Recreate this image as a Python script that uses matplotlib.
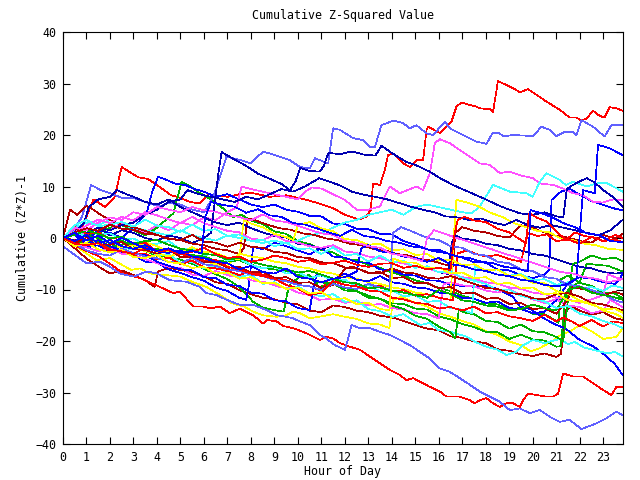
import matplotlib

matplotlib.use("Agg")

import matplotlib.pyplot as plt

# hour of day -> cumulative (Z*Z)-1, key points
red_top = [(0, 0), (0.3, 1), (0.8, 2), (1.3, 7.5), (1.8, 6), (2.2, 8), (2.5, 13.8), (2.8, 12.9),
           (3.2, 11.8), (3.6, 11.5), (4.0, 10.3), (4.3, 9.3), (4.6, 8.3), (5.0, 7.8), (5.4, 7.0),
           (5.8, 6.7), (6.2, 8.5), (7.0, 8.0), (7.5, 8.5), (8.0, 8.8), (8.8, 8.0), (9.5, 8.3),
           (10.3, 7.5), (10.9, 6.7), (11.5, 5.8), (12.0, 4.5), (12.6, 3.6), (12.9, 4.1), (13.1, 5.4),
           (13.2, 10.6), (13.5, 10.3), (13.7, 13.2), (13.84, 16.1), (14.06, 16.4), (14.48, 14.5),
           (14.77, 13.8), (15.05, 15.1), (15.33, 15.1), (15.48, 21.0), (15.55, 21.6), (16.04, 20.4),
           (16.54, 22.6), (16.75, 25.5), (16.96, 26.3), (17.6, 25.5), (17.74, 25.2), (18.17, 25.0),
           (18.31, 24.5), (18.52, 30.5), (18.74, 30.0), (19.16, 29.1), (19.45, 28.3), (19.8, 28.9),
           (20.23, 27.6), (20.58, 26.5), (21.15, 24.9), (21.57, 23.4), (21.86, 23.4), (22.07, 22.8),
           (22.29, 23.2), (22.57, 24.7), (22.85, 23.7), (23.06, 23.4), (23.28, 25.4), (23.56, 25.2),
           (23.83, 24.7)]
red_low = [(0, 0), (0.5, -1.5), (1.0, -2.5), (1.5, -3.5), (2.0, -5.0), (2.57, -6.9), (3.28, -7.8),
           (4.13, -9.5), (4.69, -10.7), (4.98, -10.4), (5.54, -13.3), (5.97, -13.3), (6.26, -13.7),
           (6.68, -13.3), (7.1, -14.6), (7.53, -13.7), (8.1, -15.0), (8.52, -16.6), (8.67, -15.9),
           (9.1, -16.2), (9.38, -17.1), (9.8, -17.5), (10.37, -18.5), (10.94, -19.8), (11.22, -19.2),
           (11.5, -19.5), (11.79, -20.4), (12.21, -21.1), (12.64, -21.7), (13.06, -23.0),
           (13.49, -24.3), (13.91, -25.6), (14.34, -26.6), (14.62, -27.6), (14.91, -27.2),
           (15.19, -27.9), (15.62, -28.9), (16.04, -29.8), (16.33, -30.8), (16.89, -30.8),
           (17.32, -31.5), (17.53, -32.1), (17.74, -31.5), (18.03, -31.1), (18.31, -32.1),
           (18.6, -32.8), (18.88, -32.1), (19.16, -32.1), (19.45, -32.8), (19.59, -31.5),
           (19.8, -30.2), (20.16, -30.5), (20.58, -30.8), (20.87, -30.8), (21.08, -30.2),
           (21.29, -26.3), (21.72, -26.9), (22.14, -26.9), (22.57, -28.2), (22.99, -29.5),
           (23.35, -30.5), (23.56, -28.9), (23.83, -29.0)]
red_c = [(0, 0), (0.5, -0.4), (1, -1.2), (1.5, -0.9), (2, -2.6), (2.5, -2.2), (3, -3.3),
         (3.5, -3.0), (4, -4.2), (4.5, -3.8), (5, -5.1), (5.5, -4.4), (6, -5.7), (6.5, -5.9),
         (7, -6.4), (7.5, -7.2), (8, -6.5), (8.5, -7.1), (9, -7.7), (9.5, -8.2), (10, -9.1),
         (10.5, -9.4), (11, -10.2), (11.3, -8), (11.7, -8.6), (12, -8.3), (12.5, -9.2), (13, -9.7),
         (13.5, -9.3), (14, -10.4), (14.5, -10.1), (15, -11.2), (15.5, -10.9), (16, -11.6),
         (16.6, -12.1), (16.8, -3), (17.2, -2.4), (17.6, -3.1), (18, -3.6), (18.5, -3.3), (19, -4.1),
         (19.5, -4.6), (19.8, 1), (20.2, 0.4), (20.6, 0.7), (21, -0.6), (21.5, -0.3), (22, -1.1),
         (22.5, 0.2), (23, -0.6), (23.5, 0.6), (23.83, 0)]
red_d = [(0, 0), (0.5, 2.1), (1, 0.8), (1.5, 1.1), (2, -0.2), (2.5, 0.3), (3, -1.2), (3.5, -0.9),
         (4, -2.6), (4.5, -2.2), (5, -3.1), (5.5, -3.6), (6, -4.4), (6.5, -4.2), (7, -5.6),
         (7.5, -6.1), (8, -6.9), (8.5, -7.4), (9, -7.9), (9.5, -9.1), (10, -9.8), (10.5, -11.1),
         (11, -10.6), (11.5, -8.4), (12, -9.1), (12.5, -9.4), (13, -10.2), (13.5, -10.4),
         (14, -11.6), (14.5, -11.9), (15, -12.6), (15.5, -12.8), (16, -13.7), (16.5, -13.4),
         (17, -14.1), (17.5, -13.3), (18, -14.6), (18.5, -14.4), (19, -15.2), (19.5, -15.6),
         (20, -16.1), (20.5, -14.9), (21, -16.2), (21.3, -15.4), (21.7, -16.3), (22, -17.1),
         (22.5, -15.9), (23, -17.2), (23.4, -16.2), (23.83, -16.5)]
red_e = [(0, 0), (0.5, -1.1), (1, -1.4), (1.5, -1.0), (2, -2.2), (2.5, -2.6), (3, -3.1), (3.5, -1.9),
         (4, -2.6), (4.5, -2.4), (5, -3.2), (5.5, -2.7), (6, -1.9), (6.5, -3.1), (7, -3.9),
         (7.5, -3.6), (8, -4.6), (8.5, -4.2), (9, -3.4), (9.5, -3.9), (10, -4.6), (10.5, -4.3),
         (11, -5.1), (11.5, -4.8), (12, -4.4), (12.5, -5.2), (13, -5.6), (13.5, -5.0), (14, -4.9),
         (14.5, -5.8), (15, -5.4), (15.5, -6.1), (16, -5.8), (16.5, -6.2), (16.65, 0.3),
         (16.8, 3.5), (17.1, 4.1), (17.5, 3.4), (18, 3.1), (18.5, 1.8), (19, 1.1), (19.4, -0.1),
         (19.7, -1), (19.85, 4.8), (20.2, 3.9), (20.6, 3.2), (21, 1.4), (21.4, -0.4), (21.8, 1.1),
         (22.2, 0.4), (22.6, 0.1), (23, -0.6), (23.5, -0.3), (23.83, -0.8)]

green_a = [(0, 0), (0.5, -1), (1, 0.5), (1.5, 1), (2, 2), (2.5, 2.5), (3, 1.5), (3.5, 0.5), (4, 2),
           (4.7, 4.8), (5.05, 10.9), (5.5, 9.8), (5.83, 8.7), (6.3, 7.5), (6.8, 5.8), (7.24, 4.1),
           (7.6, 4.5), (8, 3.4), (8.5, 2.7), (9, 1.3), (9.5, 0.8), (10, -0.6), (10.5, -1.2),
           (11, -2.3), (11.5, -2.8), (12, -4.1), (12.5, -4.3), (13, -5.2), (13.5, -5.8), (14, -6.7),
           (14.5, -7.3), (15, -8.2), (15.5, -8.8), (16, -9.7), (16.5, -10.3), (17, -11.2),
           (17.5, -11.8), (18, -12.7), (18.5, -12.9), (19, -13.8), (19.5, -13.6), (20, -14.7),
           (20.5, -14.8), (21, -16.1), (21.1, -16.5), (21.2, -8), (21.5, -7.3), (22, -8.7),
           (22.5, -9.3), (23, -10.6), (23.5, -10.8), (23.83, -11.7)]
green_b = [(0, 0), (0.5, 1), (1, 0.5), (1.5, 0), (2, -1), (2.5, -0.5), (3, -1.5), (3.5, -2.5),
           (4, -3.5), (4.5, -3.7), (5, -4.2), (5.5, -5), (6, -6), (6.5, -7), (7, -8), (7.5, -9.5),
           (8.1, -12.4), (8.5, -13.5), (9, -14), (9.4, -14.3), (9.55, -10.7), (9.7, -8.8),
           (10.1, -7.5), (10.5, -7.2), (10.9, -9.5), (11.5, -8.8), (12, -10.2), (12.5, -10.3),
           (13, -11.2), (13.5, -11.8), (14, -12.7), (14.5, -12.8), (15, -13.7), (15.5, -13.9),
           (16, -15.2), (16.5, -15.8), (17, -16.7), (17.5, -17.3), (18, -18.2), (18.5, -18.3),
           (19, -19.6), (19.5, -18.8), (20, -19.7), (20.5, -19.9), (21, -21.1), (21.2, -21),
           (21.35, -13), (21.5, -10), (22, -8.5), (22.3, -5), (22.7, -5.2), (23.2, -5.4),
           (23.83, -6.5)]
green_c = [(0, 0), (0.5, -1.1), (1, -0.4), (1.5, -0.8), (2, -1.7), (2.5, -1.3), (3, -0.9),
           (3.5, -1.8), (4, -2.2), (4.5, -2.0), (5, -3.1), (5.5, -3.3), (6, -3.6), (6.5, -4.4),
           (7, -4.6), (7.5, -4.3), (8, -5.2), (8.5, -5.8), (9, -6.1), (9.5, -6.4), (10, -7.2),
           (10.5, -7.6), (10.9, -8.6), (11.5, -8.8), (12, -9.7), (12.5, -10.3), (13, -11.6),
           (13.5, -11.8), (14, -13.1), (14.5, -13.8), (15, -15.1), (15.5, -15.7), (16, -17.2),
           (16.5, -18.3), (16.7, -19.5), (16.85, -14), (17.2, -14.6), (17.5, -14.8), (18, -16.1),
           (18.5, -16.3), (19, -17.6), (19.5, -16.8), (20, -18.1), (20.5, -18.3), (21, -19.2),
           (21.3, -20), (21.5, -12), (21.7, -5), (22, -4.6), (22.5, -3.4), (23, -4.1), (23.5, -3.8),
           (23.83, -4.5)]
green_d = [(0, 0), (0.5, 0.6), (1, 1.5), (1.5, 0.8), (2, -0.1), (2.5, 0.3), (3, -1.1), (3.5, -0.6),
           (4, -0.4), (4.5, -1.3), (5, -2.1), (5.5, -2.4), (6, -3.1), (6.5, -3.3), (7, -4.2),
           (7.5, -3.9), (8, -4.6), (8.5, -5.2), (9, -5.6), (9.5, -6.1), (10, -6.7), (10.5, -6.4),
           (11, -7.1), (11.5, -7.9), (12, -8.6), (12.5, -8.8), (13, -9.7), (13.5, -9.6), (14, -10.2),
           (14.5, -10.6), (15, -11.1), (15.5, -11.6), (16, -10.1), (16.5, -10.9), (17, -12.1),
           (17.5, -12.4), (18, -13.1), (18.5, -13.3), (19, -14.1), (19.5, -13.8), (20, -12.9),
           (20.5, -13.6), (21, -14.1), (21.5, -10.1), (22, -9.4), (22.5, -10.6), (23, -11.1),
           (23.4, -11.4), (23.83, -12)]

blue_a = [(0, 0), (0.5, 1), (1, -0.5), (1.5, 1.5), (2, 1), (2.5, 0), (3, 2), (3.56, 4.8), (3.8, 9),
          (4.05, 11.9), (4.4, 11.3), (4.8, 10.5), (5.2, 10.3), (5.6, 9.5), (6, 9), (6.5, 8),
          (7, 8.5), (7.5, 7.5), (8, 6.5), (8.5, 6), (9, 6.5), (9.5, 5.5), (10, 5.1), (10.5, 4.3),
          (11, 4.2), (11.5, 2.8), (12, 2.7), (12.5, 1.8), (13, 1.7), (13.5, 0.8), (14, 0.7),
          (14.5, -0.6), (15, -1.3), (15.5, -2.2), (16, -2.3), (16.5, -3.2), (17, -3.8), (17.5, -4.7),
          (18, -4.8), (18.5, -6.1), (19, -6.3), (19.5, -7.2), (20, -7.8), (20.5, -7.1), (20.7, -6.2),
          (20.8, 7.4), (21.2, 9), (21.6, 9.5), (22, 8.4), (22.5, 7.2), (23, 6.4), (23.5, 5.7),
          (23.83, 5.4)]
blue_b = [(0, 0), (0.5, -1.1), (1, -1.8), (1.5, -1.4), (2, -2.7), (2.5, -2.8), (3, -3.3),
          (3.5, -4.6), (4, -4.8), (4.5, -6.1), (5, -6.8), (5.5, -7.6), (6, -8.3), (6.5, -9.6),
          (7, -10.3), (7.5, -11.6), (7.8, -12), (7.9, -9.5), (8.1, -1.7), (8.5, -2.2), (9, -0.9),
          (9.5, -1.6), (10, -2.4), (10.5, -3.2), (11, -1.9), (11.5, -3.6), (12, -3.8), (12.5, -4.7),
          (13, -4.8), (13.5, -6.1), (14, -6.3), (14.5, -7.1), (15, -7.3), (15.5, -8.2), (16, -8.3),
          (16.5, -9.1), (17, -9.3), (17.6, -9.5), (18.1, -9.3), (18.6, -10.1), (19.15, -11.4),
          (19.45, -13.3), (19.9, -13.8), (20.4, -15.4), (20.87, -16.6), (21.4, -17.6), (22, -19.8),
          (22.6, -21.1), (23.14, -23), (23.5, -24.5), (23.83, -26.6)]
blue_c = [(0, 0), (0.5, 0.6), (1, -1.1), (1.5, -0.4), (2, -1.6), (2.5, -2.4), (3, -3.1),
          (3.5, -3.3), (4, -4.6), (4.5, -5.4), (5, -6.1), (5.5, -6.3), (6, -7.6), (6.5, -7.8),
          (7, -9.1), (7.5, -9.3), (8, -10.6), (8.5, -10.8), (9, -12.1), (9.5, -12.3), (10, -13.6),
          (10.5, -14), (10.65, -10), (10.8, -7), (11.2, -7.6), (11.5, -8.1), (12, -6.9),
          (12.5, -8.1), (13, -8.4), (13.5, -7.4), (14, -8.6), (14.5, -8.9), (15, -9.6), (15.5, -9.8),
          (16, -10.6), (16.5, -10.8), (17, -11.6), (17.5, -11.8), (18, -12.6), (18.5, -12.3),
          (19, -13.6), (19.5, -13.8), (20, -14.6), (20.5, -14.3), (21, -12.1), (21.5, -8.8),
          (22, -7.6), (22.5, -7.9), (23, -8.6), (23.5, -8.9), (23.7, -8), (23.83, -6.8)]
blue_d = [(0, 0), (0.5, -0.6), (1, 0.6), (1.5, -1.1), (2, -0.4), (2.5, -1.6), (3, -2.1),
          (3.5, -1.4), (4, -2.6), (4.5, -2.9), (5, -2.4), (5.5, -3.6), (6, -3.9), (6.5, -4.6),
          (7, -4.9), (7.5, -6.1), (8, -5.4), (8.5, -6.6), (9, -6.9), (9.5, -5.9), (10, -7.6),
          (10.5, -7.9), (11, -8.6), (11.5, -7.9), (12, -7.6), (12.5, -6.5), (12.7, -2), (13, -1.4),
          (13.5, -2.6), (14, -2.9), (14.5, -3.6), (15, -3.9), (15.5, -4.6), (16, -3.9), (16.5, -5.1),
          (17, -5.4), (17.5, -6.1), (18, -6.4), (18.5, -7.1), (19, -7.4), (19.5, -8.1), (20, -8.4),
          (20.5, -9.1), (21, -9.4), (21.5, -8.9), (21.86, -8), (22.14, 9.3), (22.64, 8.7),
          (22.78, 18.1), (23.28, 17.4), (23.83, 16.1)]
blue_e = [(0, 0), (0.5, 1), (1, -0.5), (1.5, 0.5), (2, -1), (2.5, 0), (3, -1), (3.5, -2),
          (4, -2.5), (4.5, -2), (5, -3), (5.5, -2.5), (5.9, -3), (6.05, 4), (6.3, 7), (6.8, 6.4),
          (7.3, 6.1), (7.8, 4.9), (8.3, 5.6), (8.8, 4.4), (9.3, 4.1), (9.8, 2.9), (10.3, 2.6),
          (10.8, 1.9), (11.3, 1.1), (11.8, 0.4), (12.3, 1.6), (12.8, 0.4), (13.3, 0.1), (13.8, -0.6),
          (14.3, -0.9), (14.8, -1.6), (15.3, -1.9), (15.8, -2.6), (16.3, -2.9), (16.8, -3.6),
          (17.3, -3.9), (17.8, -4.6), (18.3, -4.9), (18.8, -5.6), (19.3, -5.9), (19.8, -6.5),
          (19.9, 5.4), (20.3, 4.9), (20.8, 4.1), (21.3, 2.9), (21.8, 2.1), (22.3, 0.9), (22.8, 0.6),
          (23.3, -0.6), (23.83, -0.8)]

magenta_a = [(0, 0), (0.5, 1.5), (1, 0.5), (1.5, 2), (2, 1.5), (2.5, 3), (3, 2), (3.5, 1), (4, 2.5),
             (4.5, 1.5), (5, 3), (5.5, 2.5), (6, 4), (6.5, 3.5), (7, 5), (7.4, 6), (7.6, 10),
             (8, 9.5), (8.5, 9), (9, 8.5), (9.5, 8), (10, 7.5), (10.3, 9), (10.6, 9.8), (11, 9.6),
             (11.5, 8.5), (12, 7.4), (12.5, 5.5), (12.9, 5.4), (13.49, 6.1), (13.91, 10),
             (14.34, 8.7), (15.05, 10), (15.33, 9.3), (15.62, 12.6), (15.83, 18.4), (16.04, 19.2),
             (16.47, 18.4), (16.89, 17.1), (17.32, 15.8), (17.74, 14.5), (18.17, 14.2), (18.6, 12.6),
             (19.02, 12.9), (19.45, 12.2), (20.01, 11.6), (20.3, 10.6), (20.87, 10.3), (21.29, 9.6),
             (21.72, 8.7), (22.14, 8.3), (22.57, 7.0), (22.99, 6.9), (23.42, 7.5), (23.83, 7.4)]
magenta_b = [(0, 0), (0.5, -1.1), (1, -1.8), (1.5, -2.6), (2, -1.9), (2.5, -3.1), (3, -3.3),
             (3.5, -4.1), (4, -4.9), (4.5, -5.6), (5, -5.8), (5.5, -7.1), (6, -7.4), (6.5, -6.4),
             (7.2, -7.5), (7.6, -7.3), (8, -8.2), (8.6, -8.6), (9.2, -9.5), (9.6, -9.7),
             (10, -10.6), (10.5, -11.1), (10.9, -12), (11.5, -11.8), (12, -12.6), (12.5, -12.3),
             (13, -13.1), (13.5, -12.8), (14, -13.6), (14.5, -13.9), (15, -14.6), (15.5, -14.8),
             (16, -15.6), (16.2, -9), (16.5, -8.6), (17, -9.2), (17.5, -9.4), (18, -10.2),
             (18.5, -10.6), (19, -9.9), (19.5, -11.1), (20, -11.9), (20.5, -12.6), (21, -11.9),
             (21.5, -13.1), (22, -13.4), (22.5, -14.6), (23, -14.1), (23.3, -12), (23.83, -13.4)]
magenta_c = [(0, 0), (0.5, 1.1), (1, 2.4), (1.5, 3.6), (2, 2.9), (2.5, 4.1), (3, 3.4), (3.5, 5),
             (4, 4.4), (4.5, 3.6), (5, 2.9), (5.5, 4.1), (6, 2.9), (6.5, 2.1), (7, 1.4), (7.5, 1.1),
             (8, -0.1), (8.5, -0.4), (9, 0.6), (9.5, -0.6), (10, -0.9), (10.5, -1.6), (11, -1.9),
             (11.5, -1.4), (12, -2.6), (12.5, -2.9), (13, -3.6), (13.5, -3.9), (14, -4.6),
             (14.5, -4.9), (15, -5.6), (15.5, -5.9), (16, -6.6), (16.5, -6.9), (17, -7.6),
             (17.5, -7.9), (18, -8.6), (18.5, -8.9), (19, -9.6), (19.5, -9.9), (20, -10.6),
             (20.5, -10.9), (21, -11.6), (21.5, -11.9), (22, -12.6), (22.5, -11.9), (23, -11.1),
             (23.2, -7), (23.5, -7.6), (23.83, -8)]
magenta_d = [(0, 0), (0.5, 2), (1, 1.5), (1.5, 3), (2, 4), (2.5, 3.5), (3, 5), (3.5, 4.5), (4, 6),
             (4.5, 5.5), (5, 5), (5.5, 6), (6, 5.4), (6.5, 5.1), (7, 4.4), (7.5, 4.1), (8, 3.4),
             (8.5, 4.6), (9, 3.4), (9.5, 3.1), (10, 2.4), (10.5, 1.6), (11, 0.9), (11.5, 0.6),
             (12, -0.6), (12.5, -0.9), (13, -1.6), (13.5, -1.9), (14, -3.1), (14.5, -3.4), (15, -4.1),
             (15.3, -4.5), (15.5, 0), (15.8, 1.5), (16.2, 0.9), (16.7, 0.1), (17.2, -0.6),
             (17.7, -1.4), (18.2, -2.1), (18.7, -2.9), (19.2, -3.6), (19.7, -4.4), (20.2, -5.1),
             (20.7, -5.9), (21.2, -6.6), (21.7, -6.9), (22.2, -7.6), (22.7, -7.9), (23.2, -8.6),
             (23.83, -8)]

cyan_a = [(0, 0), (0.5, 2), (1, 3), (1.5, 2.5), (2, 3.5), (2.5, 2.5), (3, 2), (3.5, 1.5), (4, 1),
          (4.5, 0.5), (5, 1.5), (5.5, 0.5), (6, 0), (6.5, -0.5), (7, 0.5), (7.5, 0), (8, -0.5),
          (8.5, -1), (9, -0.5), (9.5, -1), (10, -0.5), (10.5, 0.5), (11, 1), (11.5, 2), (12, 3),
          (12.5, 3.5), (13, 4.5), (13.5, 5), (14, 5.5), (14.5, 4.5), (15, 6), (15.5, 6.5), (16, 6),
          (16.5, 5.5), (17, 5), (17.4, 4.8), (17.74, 6.1), (18.31, 10.3), (19.02, 9.0),
          (19.73, 8.7), (20, 8), (20.3, 10.9), (20.58, 12.6), (21.15, 11.3), (21.4, 10.3),
          (21.72, 10.9), (22.3, 10), (22.71, 10.6), (23.14, 10.7), (23.83, 9.0)]
cyan_b = [(0, 0), (0.5, 1.2), (1, 0.3), (1.5, -0.8), (2, -0.4), (2.5, -1.9), (3, -2.2), (3.5, -1.8),
          (4, -3.4), (4.5, -3.1), (5, -4.8), (5.5, -4.6), (6, -5.9), (6.5, -5.4), (7, -6.8),
          (7.5, -7.6), (8, -7.1), (8.5, -8.9), (9, -8.6), (9.5, -9.9), (10, -9.4), (10.5, -10.8),
          (11, -11.3), (11.5, -10.9), (12, -12.4), (12.5, -12.1), (13, -13.8), (13.5, -14.2),
          (14.04, -15.3), (14.5, -14.8), (15.2, -16.9), (15.6, -16.5), (16, -17.9), (16.5, -18.2),
          (17.2, -19.2), (17.6, -20.3), (18.03, -21.1), (18.5, -21.7), (18.88, -22.7), (19.3, -22.1),
          (19.6, -20.8), (20.01, -19.8), (20.5, -20.4), (21.15, -19.6), (21.5, -20.6), (21.8, -20.2),
          (22.2, -21.3), (22.57, -21.7), (23.2, -22.4), (23.5, -22.1), (23.83, -23.0)]
cyan_c = [(0, 0), (0.5, 0.8), (1, 1.6), (1.5, 0.7), (2, 0.9), (2.5, -0.3), (3, -0.1), (3.5, -1.3),
          (4, -1.1), (4.5, -0.6), (5, -2.2), (5.5, -2.0), (6, -3.3), (6.5, -3.1), (7, -4.4),
          (7.5, -4.0), (8, -5.2), (8.5, -5.9), (9, -5.5), (9.5, -6.9), (10, -6.6), (10.5, -7.8),
          (11, -7.2), (11.5, -8.3), (12, -8.1), (12.5, -9.4), (13, -9.1), (13.5, -10.4),
          (14, -10.2), (14.5, -11.3), (15, -11.1), (15.5, -12.4), (16, -12.2), (16.5, -13.6),
          (17, -13.9), (17.4, -14.6), (17.55, -5.6), (18, -6.4), (18.5, -6.1), (19, -7.3),
          (19.5, -7.0), (20, -8.2), (20.5, -8.0), (21, -9.1), (21.5, -8.6), (22, -9.8), (22.5, -9.5),
          (23, -10.3), (23.4, -9.2), (23.83, -9.7)]
cyan_d = [(0, 0), (0.5, 2.5), (1, 3.5), (1.5, 2.3), (2, 2.6), (2.5, 3.1), (3, 2.2), (3.5, 3.6),
          (4, 2.4), (4.5, 2.1), (5, 1.2), (5.5, 2.6), (6, 1.4), (6.5, 1.7), (7, 0.4), (7.5, 0.7),
          (8, -0.6), (8.5, -0.3), (9, -1.6), (9.5, -0.9), (10, -2.2), (10.5, -2.0), (11, -3.1),
          (11.5, -1.8), (12, -3.4), (12.5, -3.1), (13, -4.6), (13.5, -3.4), (14, -4.7), (14.5, -4.4),
          (15, -5.8), (15.5, -5.5), (16, -6.7), (16.5, -6.4), (17, -7.8), (17.5, -8.3), (18, -8.9),
          (18.5, -10.2), (19, -10.0), (19.5, -11.2), (20, -11.8), (20.5, -12.3), (21, -13.6),
          (21.5, -13.2), (22, -14.7), (22.5, -15.2), (23, -16.1), (23.5, -16.8), (23.83, -17.5)]

darkred_a = [(0, 0), (0.5, -2), (1, -4), (1.5, -5.5), (2, -6.9), (2.5, -6.3), (3, -7.2),
             (3.5, -8.2), (3.9, -9.5), (4.05, -6.5), (4.5, -5.8), (5, -6.2), (5.5, -6.6), (6, -7.4),
             (6.5, -8.6), (7, -8.9), (7.5, -10.1), (8, -10.9), (8.5, -11.6), (9, -11.9),
             (9.5, -12.6), (10, -12.9), (10.5, -14.1), (11, -14.4), (11.5, -13.1), (12, -13.4),
             (12.5, -14.1), (13, -14.4), (13.5, -15.1), (14, -15.4), (14.5, -16.1), (15, -16.9),
             (15.5, -17.6), (16, -17.9), (16.5, -19.1), (17, -19.4), (17.5, -20.1), (18, -20.4),
             (18.5, -21.6), (19, -21.9), (19.5, -22.6), (20, -22.9), (20.5, -22.4), (21, -23.1),
             (21.2, -22.5), (21.4, -14), (21.7, -13.4), (22, -14.1), (22.5, -14.9), (23, -14.4),
             (23.5, -15.6), (23.83, -15.9)]
darkred_b = [(0, 0), (0.3, 5.5), (0.6, 4.5), (1, 6.2), (1.3, 5.5), (1.6, 4.5), (2, 3.5), (2.5, 2.5),
             (3, 2.1), (3.5, 1.4), (4, 0.6), (4.5, -0.1), (5, -0.4), (5.5, -1.1), (6, -1.4),
             (6.5, -2.1), (7, -2.4), (7.5, -3.1), (7.7, -2), (7.85, 3.8), (8.2, 3.4), (8.7, 2.6),
             (9.2, 1.9), (9.7, 1.6), (10.2, 0.9), (10.7, 0.6), (11.2, -0.1), (11.7, -0.4),
             (12.2, -1.1), (12.7, -1.4), (13.2, -2.1), (13.7, -2.4), (14.2, -3.1), (14.7, -3.4),
             (15.2, -4.1), (15.7, -4.4), (16.2, -5.1), (16.6, -5.5), (16.7, 1), (17, 2.1),
             (17.5, 1.4), (18, 1.1), (18.5, 0.4), (19, 0.1), (19.5, 2.5), (20, 1.9), (20.5, 1.1),
             (21, 0.4), (21.5, 0.1), (22, -0.6), (22.5, -0.9), (23, 0.6), (23.5, -0.1), (23.83, 0.8)]
darkred_c = [(0, 0), (0.5, -1.1), (1, 0.2), (1.5, -1.2), (2, -1.3), (2.5, -0.8), (3, -2.2),
             (3.5, -2.3), (4, -3.1), (4.5, -2.2), (5, -3.7), (5.5, -3.8), (6, -4.7), (6.5, -4.6),
             (7, -5.8), (7.5, -5.6), (8, -6.7), (8.5, -6.5), (9, -7.8), (9.5, -7.6), (10, -8.7),
             (10.5, -8.6), (11, -9.7), (11.5, -9.1), (12, -6), (12.3, -5.5), (13, -6.8), (13.5, -6.6),
             (14, -7.8), (14.5, -7.6), (15, -8.8), (15.5, -8.7), (16, -9.8), (16.5, -9.5),
             (17, -10.8), (17.5, -10.6), (18, -11.8), (18.5, -11.6), (19, -12.8), (19.5, -12.6),
             (20, -13.8), (20.5, -13.6), (21, -14.7), (21.5, -12), (21.7, -9.5), (22, -9.8),
             (22.5, -10.2), (23, -11.1), (23.5, -10.4), (23.83, -11)]
darkred_d = [(0, 0), (0.5, 1.1), (1, 1.9), (1.5, 1.4), (2, 2.6), (2.5, 1.8), (3, 1.6), (3.5, 0.8),
             (4, 0.6), (4.5, -0.2), (5, -0.4), (5.5, 0.6), (6, -0.7), (6.5, -0.9), (7, -1.7),
             (7.5, -0.9), (8, -1.7), (8.5, -1.9), (9, -2.7), (9.5, -2.9), (10, -3.7), (10.5, -3.9),
             (11, -4.7), (11.5, -4.9), (12, -5.7), (12.5, -5.9), (13, -6.7), (13.5, -6.9), (14, -5.9),
             (14.5, -6.7), (15, -6.9), (15.5, -7.7), (16, -7.9), (16.5, -7.4), (17, -8.1),
             (17.5, -8.9), (18, -9.7), (18.5, -9.9), (19, -10.7), (19.5, -10.9), (20, -11.7),
             (20.5, -11.9), (21, -10.9), (21.5, -10.7), (22, -11.4), (22.5, -12.6), (23, -12.9),
             (23.5, -13.6), (23.83, -14)]

yellow_a = [(0, 0), (0.5, -1.5), (1, -3), (1.43, -4.3), (2, -3.9), (2.5, -5.2), (2.9, -6.2),
            (3.3, -5.9), (3.7, -6.9), (4.4, -7.2), (5, -7.5), (5.5, -8.5), (6.1, -9.5), (6.7, -11.1),
            (7.2, -12.7), (7.7, -13.3), (8.1, -14.3), (8.5, -15), (9.1, -15.3), (9.5, -15),
            (9.8, -14.3), (10.1, -14.6), (10.5, -15.6), (10.9, -15.3), (11.5, -14.8), (12, -15.3),
            (12.5, -15.7), (13, -16.6), (13.5, -16.8), (13.9, -17.5), (14.05, -12), (14.4, -11.4),
            (15, -12.6), (15.5, -13.3), (16, -14.6), (16.5, -15.3), (17, -16.1), (17.5, -16.8),
            (18, -18.1), (18.5, -18.8), (19, -20.1), (19.5, -20.8), (19.9, -22), (20.3, -21.4),
            (20.8, -20.1), (21.2, -18.8), (21.6, -18.1), (22, -16.9), (22.5, -18.1), (23, -19.6),
            (23.56, -19.2), (23.83, -17.5)]
yellow_b = [(0, 0), (0.5, -0.6), (1, -0.9), (1.5, -0.4), (2, -1.6), (2.5, -1.9), (3, -1.4),
            (3.5, -2.6), (4, -2.9), (4.5, -3.6), (5, -2.9), (5.5, -4.1), (6, -4.4), (6.5, -5.1),
            (7, -5.4), (7.5, -3), (8, -3.6), (8.5, -3.9), (9, -4.6), (9.5, -4.9), (10, -5.6),
            (10.5, -5.9), (11, -6.6), (11.5, -6.9), (12, -7.6), (12.5, -7.9), (13, -8.6),
            (13.5, -8.9), (14, -9.6), (14.5, -9.9), (15, -10.6), (15.5, -10.9), (16, -11.6),
            (16.5, -12), (16.65, 1), (16.75, 7.4), (17.2, 6.9), (17.7, 6.1), (18.2, 4.9),
            (18.7, 4.1), (19.2, 2.9), (19.7, 2.1), (20.2, 1.4), (20.7, 1.1), (21.2, -0.1),
            (21.7, -0.4), (22.2, -1.1), (22.7, -1.4), (23.2, -2.1), (23.83, -2.3)]
yellow_c = [(0, 0), (0.5, -0.6), (1, 0.5), (1.5, -1.2), (2, -0.4), (2.5, -1.7), (3, -1.9),
            (3.5, -0.8), (4, -1.6), (4.5, -2.7), (5, -2.9), (5.5, -1.8), (6, -2.7), (6.5, -2.9),
            (7, -3.8), (7.5, -4.1), (7.7, 3.5), (8, 2.8), (8.5, 2.1), (9, 0.8), (9.5, 0.2),
            (9.8, -0.4), (10, 2.5), (10.5, 3.1), (11, 1.9), (11.5, 1.3), (12, -0.2), (12.5, -0.4),
            (13, -1.3), (13.5, -1.1), (14, -2.4), (14.5, -2.2), (15, -3.3), (15.5, -3.1), (16, -4.4),
            (16.5, -4.2), (17, -5.3), (17.5, -5.1), (18, -6.3), (18.5, -6.1), (19, -7.4),
            (19.5, -7.2), (20, -8.7), (20.5, -8.8), (21, -10.3), (21.5, -10.8), (22, -12.2),
            (22.5, -12.6), (23, -14.1), (23.5, -14.7), (23.83, -15.5)]
yellow_d = [(0, 0), (0.5, -1.6), (1, -0.9), (1.5, -2.2), (2, -2.8), (2.5, -2.3), (3, -3.7),
            (3.5, -3.9), (4, -3.3), (4.5, -4.7), (5, -4.9), (5.5, -5.8), (6, -5.6), (6.5, -6.9),
            (7, -6.7), (7.5, -7.9), (8, -7.6), (8.5, -8.8), (9, -8.7), (9.5, -9.9), (10, -9.6),
            (10.5, -10.8), (11, -10.5), (11.5, -11.9), (12, -11.7), (12.5, -12.8), (13, -12.6),
            (13.5, -13.8), (13.9, -14), (14.05, -4), (14.5, -4.7), (15, -4.8), (15.5, -5.9),
            (16, -5.7), (16.5, -6.9), (17, -6.7), (17.5, -7.8), (18, -7.6), (18.5, -8.9), (19, -8.7),
            (19.5, -9.8), (20, -9.6), (20.5, -10.9), (21, -10.7), (21.5, -12.1), (22, -12.3),
            (22.5, -12.9), (23, -13.8), (23.5, -13.7), (23.83, -14.5)]

slate_top = [(0, 0), (0.4, 1.5), (0.8, 4), (1.2, 10.3), (1.6, 9.3), (2, 8.7), (2.5, 7.8),
             (3, 7.8), (3.5, 7.0), (4.1, 6.1), (4.5, 6.8), (5, 6.5), (5.5, 5.5), (6, 5), (6.4, 8),
             (6.96, 15.8), (7.5, 15.2), (8, 14.5), (8.52, 16.8), (9.23, 15.8), (9.66, 15.1),
             (10.09, 13.8), (10.51, 13.5), (10.72, 15.5), (10.94, 15.1), (11.29, 14.5), (11.5, 21.3),
             (11.79, 21.0), (12.35, 19.4), (12.78, 19.0), (13.06, 17.7), (13.28, 17.7), (13.56, 21.9),
             (14.06, 22.8), (14.48, 22.3), (14.77, 21.3), (15.05, 21.9), (15.48, 20.3), (15.76, 20.0),
             (16.26, 22.6), (16.47, 21.3), (16.89, 20.3), (17.6, 18.7), (18.03, 18.3), (18.31, 20.5),
             (18.6, 20.3), (18.74, 19.7), (19.16, 20.0), (20.01, 19.8), (20.37, 21.6), (20.72, 21.0),
             (21.01, 19.8), (21.36, 20.6), (21.72, 20.6), (21.86, 20.0), (22.07, 22.9), (22.57, 21.6),
             (23.06, 19.7), (23.35, 21.9), (23.83, 21.9)]
slate_low = [(0, 0), (0.02, -1.7), (1, -4.9), (1.57, -4.6), (2, -5.6), (2.43, -6.9), (3, -7.5),
             (3.56, -6.5), (4, -6.9), (4.55, -8.2), (5.26, -8.5), (5.83, -9.5), (6.1, -10.7),
             (6.54, -11.1), (6.97, -12.0), (7.53, -13.0), (8.1, -13.0), (8.67, -14.0), (9.1, -15.0),
             (9.5, -15.3), (9.8, -15.6), (10.09, -16.2), (10.5, -16.9), (10.94, -18.8),
             (11.2, -19.5), (11.57, -20.8), (12, -21.7), (12.14, -19.5), (12.28, -16.9),
             (12.64, -17.5), (13.06, -17.5), (13.49, -18.2), (13.9, -18.8), (14.34, -19.8),
             (14.77, -20.8), (15.19, -22.1), (15.62, -23.4), (16.04, -25.3), (16.47, -26.0),
             (16.89, -27.2), (17.32, -28.5), (17.74, -29.8), (18.17, -30.8), (18.6, -31.8),
             (19.02, -33.4), (19.45, -33.1), (19.87, -34.0), (20.3, -33.4), (20.72, -34.7),
             (21.15, -35.7), (21.57, -35.3), (22.07, -37.1), (22.71, -36.0), (23.14, -35.0),
             (23.56, -33.7), (23.83, -34.4)]
slate_mid = [(0, 0), (0.5, -1.1), (1, -2.4), (1.5, -3.1), (2, -3.4), (2.5, -2.1), (3, -2.9),
             (3.5, -3.6), (4, -3.9), (4.5, -4.6), (5, -4.9), (5.5, -3.9), (6, -5.1), (6.5, -5.4),
             (7, -6.1), (7.5, -6.4), (8, -7.1), (8.5, -7.4), (9, -8.1), (9.5, -8.4), (10, -9.1),
             (10.5, -9.4), (11, -10.1), (11.5, -8.9), (12, -9.6), (12.5, -9.9), (13, -8.9),
             (13.5, -9.6), (13.9, -10), (14.05, 1), (14.4, 2.1), (14.8, 1.4), (15.2, 0.6), (15.6, -0.1),
             (16, -0.4), (16.5, -1.6), (17, -1.9), (17.5, -3.1), (18, -3.4), (18.5, -4.6), (19, -4.9),
             (19.5, -6.1), (20, -6.4), (20.5, -7.6), (21, -7.9), (21.5, -9.1), (22, -9.4),
             (22.5, -10.1), (23, -10.9), (23.5, -12.1), (23.83, -12.5)]

navy_a = [(0, 0), (0.5, -1), (1, 1), (1.5, 2), (2, 0.5), (2.5, 1.5), (3, 1), (3.5, 0), (4, -0.5),
          (4.5, 0.5), (5, 0), (5.5, -1), (6, 0), (6.3, 1), (6.6, 12), (6.75, 16.7), (7.2, 15.5),
          (7.8, 14), (8.3, 12.5), (8.8, 11.5), (9.3, 10.5), (9.66, 9.3), (9.9, 11), (10.1, 13.6),
          (10.5, 13), (10.94, 12.9), (11.1, 14), (11.3, 16.5), (11.8, 16.3), (12.3, 16.8),
          (12.8, 16.2), (13.3, 16), (13.56, 17.9), (14, 16.5), (14.6, 14.8), (15.1, 14),
          (15.6, 12.9), (16.1, 11.5), (16.6, 10.3), (17.1, 9.3), (17.6, 8.3), (18, 7.5),
          (18.5, 6.4), (19, 5.5), (19.45, 4.8), (20, 4.5), (20.5, 5), (21, 4.2), (21.3, 4),
          (21.45, 9.5), (21.6, 10), (22, 11), (22.3, 11.6), (22.6, 10.9), (23, 9.3), (23.4, 8),
          (23.83, 6.1)]
navy_b = [(0, 0), (0.5, 1), (0.9, 3), (1.1, 6), (1.5, 7.5), (2, 8), (2.3, 9.3), (2.7, 8.5), (3, 8),
          (3.5, 7), (4, 6.5), (4.5, 7.5), (5, 6), (5.5, 5), (6, 4), (6.5, 3), (7, 2.5), (7.5, 3),
          (8, 1.9), (8.5, 1.1), (9, 0.4), (9.5, 0.1), (10, -1.1), (10.5, -1.4), (11, -2.1),
          (11.5, -1.4), (12, -2.6), (12.5, -2.9), (13, -3.6), (13.5, -3.9), (14, -4.6), (14.5, -4.9),
          (15, -5.6), (15.5, -5.9), (16, -6.6), (16.4, -7), (16.55, -1), (16.7, 0.5), (17, -0.1),
          (17.5, -0.4), (18, -1.1), (18.5, -1.4), (19, -2.1), (19.5, -2.4), (20, -3.1),
          (20.5, -3.4), (21, -4.1), (21.5, -4.9), (22, -5.6), (22.5, -5.9), (23, -6.6), (23.5, -6.9),
          (23.83, -6.8)]
navy_c = [(0, 0), (0.5, -0.5), (1, 0.5), (1.5, 2), (2, 1.5), (2.5, 2.5), (3, 3), (3.5, 4.5),
          (4, 5.5), (4.5, 7), (5, 7.5), (5.3, 9.3), (5.8, 8.5), (6.3, 8), (6.8, 7.5), (7.3, 7),
          (7.8, 8), (8.3, 7.5), (8.8, 8.5), (9.3, 9.5), (9.8, 9), (10.3, 10), (10.9, 11.6),
          (11.3, 11), (11.8, 10.2), (12.3, 9), (12.8, 8.4), (13.3, 8), (13.8, 7.5), (14.3, 6.8),
          (14.8, 6.1), (15.3, 5.5), (15.8, 5), (16.3, 4.2), (16.8, 4), (17.3, 3.5), (17.8, 3.8),
          (18.3, 3), (18.8, 2.5), (19.3, 3.5), (19.8, 2.5), (20.3, 2), (20.8, 2.5), (21.3, 2),
          (21.8, 1.5), (22.3, 1), (22.8, 0.5), (23.3, 1.5), (23.83, 3.5)]

x_ticks = list(range(24))
y_ticks = [-40, -30, -20, -10, 0, 10, 20, 30, 40]

palette = {
    "red": "#ff0000",
    "green": "#00b000",
    "blue": "#0000ff",
    "magenta": "#ff50ff",
    "cyan": "#40ffff",
    "darkred": "#b00000",
    "yellow": "#ffff00",
    "slate": "#6060ff",
    "navy": "#0000b0",
}

series = [
    ("red", red_top), ("green", green_a), ("blue", blue_a), ("magenta", magenta_a),
    ("cyan", cyan_a), ("darkred", darkred_a), ("yellow", yellow_a), ("slate", slate_top),
    ("navy", navy_a),
    ("red", red_low), ("green", green_b), ("blue", blue_b), ("magenta", magenta_b),
    ("cyan", cyan_b), ("darkred", darkred_b), ("yellow", yellow_b), ("slate", slate_low),
    ("navy", navy_b),
    ("red", red_c), ("green", green_c), ("blue", blue_c), ("magenta", magenta_c),
    ("cyan", cyan_c), ("darkred", darkred_c), ("yellow", yellow_c), ("slate", slate_mid),
    ("navy", navy_c),
    ("red", red_d), ("green", green_d), ("blue", blue_d), ("magenta", magenta_d),
    ("cyan", cyan_d), ("darkred", darkred_d), ("yellow", yellow_d),
    ("red", red_e), ("blue", blue_e),
]

FONT = "DejaVu Sans Mono"
FS = 8.4

fig = plt.figure(figsize=(6.4, 4.8), dpi=100)
ax = fig.add_axes([63 / 640, 36 / 480, (622.7 - 63) / 640, (444 - 32) / 480])

for color_name, points in series:
    hours = [p[0] for p in points]
    values = [p[1] for p in points]
    ax.plot(hours, values, color=palette[color_name], lw=0.5, antialiased=False)

ax.set_xlim(0, 23.83)
ax.set_ylim(-40, 40)
ax.set_xticks(x_ticks)
ax.set_yticks(y_ticks)
ax.tick_params(direction="in", length=5, width=0.8, top=True, right=True, pad=5,
               labelsize=FS)
for lab in ax.get_xticklabels() + ax.get_yticklabels():
    lab.set_fontfamily(FONT)
for spine in ax.spines.values():
    spine.set_linewidth(0.8)

fig.text(342.8 / 640, 1 - 16 / 480, "Cumulative Z-Squared Value", ha="center", va="center",
         family=FONT, fontsize=FS)
fig.text(342.8 / 640, 1 - 471 / 480, "Hour of Day", ha="center", va="center",
         family=FONT, fontsize=FS)
fig.text(22.5 / 640, 1 - 238 / 480, "Cumulative (Z*Z)-1", ha="center", va="center",
         rotation=90, family=FONT, fontsize=FS)

fig.savefig("out.png", dpi=100)
